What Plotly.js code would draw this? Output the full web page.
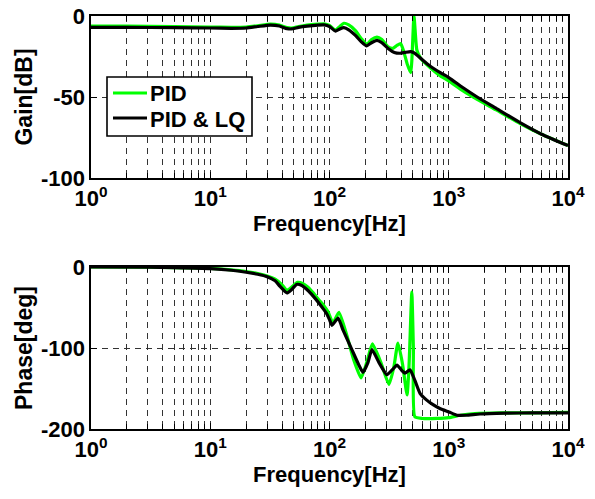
<!DOCTYPE html>
<html><head><meta charset="utf-8">
<script src="https://cdn.plot.ly/plotly-3.0.1.min.js"></script>
<style>html,body{margin:0;padding:0;background:#fff}#chart{width:595px;height:499px}</style>
</head><body><div id="chart"></div>
<script>
// ---- Gain (dB) ----
const gainFreqLQ = [1,2,5,10,15,20,25,32,38,44,48,55,65,80,90,100,112,122,132,145,165,185,205,225,250,275,310,350,390,430,480,520,600,700,850,1000,1300,1730,2500,4000,6000,10000];
const gainLQ     = [-7,-7,-7.2,-7.4,-7.6,-7.4,-6.5,-5.6,-6.2,-7.8,-8,-7,-6.2,-5.6,-5.5,-6.5,-9.3,-8,-7.2,-8.5,-12,-16,-18.5,-16.5,-15,-16.5,-20,-22.5,-23,-22.5,-22,-23,-27,-31,-35,-38,-44,-50,-57,-66,-73,-80];

const gainFreqPID = [1,2,5,10,15,20,25,32,38,44,48,55,65,80,90,100,112,122,132,145,165,185,205,225,250,275,310,340,370,395,420,450,480,511,540,580,700,850,1000,1300,1730,2500,4000,6000,10000];
const gainPID     = [-6.3,-6.3,-6.5,-6.8,-7,-6.8,-6,-5,-5.6,-7.2,-7.5,-6.5,-5.6,-5,-4.8,-5.8,-8.8,-6.5,-4.5,-5.5,-9,-14,-17.5,-14.5,-13,-14.5,-19,-20,-18,-17,-22,-30,-35,0,-21,-26,-32,-37,-40,-46,-51.5,-58,-66.5,-73,-80];

// ---- Phase (deg) ----
const phaseFreqLQ = [1,3,5,10,15,20,25,30,35,38.5,44,48,53,58,66,73,82,90,95,100,105,118,130,154,175,191,210,227,260,303,340,368,400,430,473,520,574,650,738,850,1005,1172,1400,1828,3000,5000,10000];
const phaseLQ     = [0,-0.3,-0.8,-2,-4,-6.5,-9,-12,-17,-24,-32,-28,-21.5,-22.5,-29,-36,-45,-53,-58,-65,-72,-63,-78,-102,-120,-130,-118,-102,-118,-133,-126,-121,-127,-131,-127,-140,-156,-164,-170,-175,-179,-183,-183,-181.5,-180.5,-180,-180];

const phaseFreqPID = [1,3,5,10,15,20,25,30,35,40,44,48,54,60,66,73,82,90,97,107,120,140,160,184,205,229,270,315,345,375,410,447,465,490,505,520,600,800,1000,1250,1650,2700,5000,10000];
const phasePID     = [0,-0.3,-0.7,-1.8,-3.5,-5.5,-8,-11,-15,-22,-29,-25,-19,-20.5,-25,-32,-41,-48,-55,-69,-56,-85,-115,-137,-118,-95,-118,-145,-125,-94,-120,-158,-120,-31,-100,-185,-187,-187,-186,-183,-181,-180,-180,-179.5];

const xTickVals = [1,10,100,1000,10000];
const xTickText = ['10<sup>0</sup>','10<sup>1</sup>','10<sup>2</sup>','10<sup>3</sup>','10<sup>4</sup>'];
const gainTicks = [-100,-50,0];
const gainTickText = ['-100','-50','0'];
const phaseTicks = [-200,-100,0];
const phaseTickText = ['-200','-100','0'];
const legendNames = ['PID','PID &amp; LQ'];

const minorVals = [];
for (let k = 0; k < 4; k++) for (let m = 2; m <= 9; m++) minorVals.push(m * Math.pow(10, k));

const GREEN = '#00ff00', BLACK = '#000000';
const FONT = '"Liberation Sans", Arial, Helvetica, sans-serif';
const GRID = '#333333';
const TF = {family:FONT, size:22, color:'#000', weight:'bold'};
const LINE = (c) => ({color:c, width:3.2, shape:'spline', smoothing:0.5});

const traces = [
  {x: gainFreqPID, y: gainPID, xaxis:'x', yaxis:'y', mode:'lines', line:LINE(GREEN)},
  {x: gainFreqLQ, y: gainLQ, xaxis:'x', yaxis:'y', mode:'lines', line:LINE(BLACK)},
  {x: phaseFreqPID, y: phasePID, xaxis:'x2', yaxis:'y2', mode:'lines', line:LINE(GREEN)},
  {x: phaseFreqLQ, y: phaseLQ, xaxis:'x2', yaxis:'y2', mode:'lines', line:LINE(BLACK)}
];

function xAxis(anchor) {
  return {
    type:'log', range:[0,4], domain:[91/595, 568/595], anchor: anchor,
    tickvals: xTickVals, ticktext: xTickText,
    ticks:'inside', ticklen:6, tickwidth:1, tickcolor:'#000',
    showline:true, linecolor:'#000', linewidth:1.6, mirror:'ticks',
    showgrid:true, gridcolor:GRID, gridwidth:1, griddash:'6px,5px',
    minor:{tickvals: minorVals, ticks:'inside', ticklen:5, tickcolor:'#000', showgrid:true, gridcolor:GRID, gridwidth:1, griddash:'6px,5px'},
    zeroline:false, fixedrange:true,
    tickfont:TF,
    title:{text:'Frequency[Hz]', font:{family:FONT, size:22, color:'#000', weight:'bold'}, standoff:2}
  };
}
function yAxis(anchor, domain, range, tickvals, ticktext, title) {
  return {
    domain: domain, anchor: anchor, range: range, tickvals: tickvals, ticktext: ticktext,
    ticks:'inside', ticklen:6, tickcolor:'#000',
    showline:true, linecolor:'#000', linewidth:1.6, mirror:'ticks',
    showgrid:true, gridcolor:GRID, gridwidth:1, griddash:'6px,5px',
    zeroline:false, fixedrange:true,
    tickfont:TF,
    title:{text:title, font:{family:FONT, size:23, color:'#000', weight:'bold'}, standoff:2}
  };
}

const P = (px) => px / 595, Q = (py) => 1 - py / 499;

const layout = {
  width:595, height:499,
  margin:{l:0, r:0, t:0, b:0},
  paper_bgcolor:'#fff', plot_bgcolor:'#fff',
  showlegend:false,
  xaxis: xAxis('y'),
  yaxis: yAxis('x', [Q(178), Q(16)], [-100,0], gainTicks, gainTickText, 'Gain[dB]'),
  xaxis2: xAxis('y2'),
  yaxis2: yAxis('x2', [Q(429), Q(267)], [-200,0], phaseTicks, phaseTickText, 'Phase[deg]'),
  shapes: [
    {type:'rect', xref:'paper', yref:'paper', x0:P(107), x1:P(252), y0:Q(136), y1:Q(77), line:{color:'#000', width:1.6}, fillcolor:'#fff', layer:'above'},
    {type:'line', xref:'paper', yref:'paper', x0:P(113), x1:P(147), y0:Q(93), y1:Q(93), line:{color:GREEN, width:3.2}, layer:'above'},
    {type:'line', xref:'paper', yref:'paper', x0:P(113), x1:P(147), y0:Q(118), y1:Q(118), line:{color:BLACK, width:3.2}, layer:'above'}
  ],
  annotations: [
    {xref:'paper', yref:'paper', x:P(148), y:Q(94), xanchor:'left', yanchor:'middle', showarrow:false, text:legendNames[0], font:{family:FONT, size:22, color:'#000', weight:'bold'}},
    {xref:'paper', yref:'paper', x:P(148), y:Q(119), xanchor:'left', yanchor:'middle', showarrow:false, text:legendNames[1], font:{family:FONT, size:22, color:'#000', weight:'bold'}}
  ]
};

Plotly.newPlot('chart', traces, layout, {staticPlot:true, displayModeBar:false});
</script>
</body></html>
